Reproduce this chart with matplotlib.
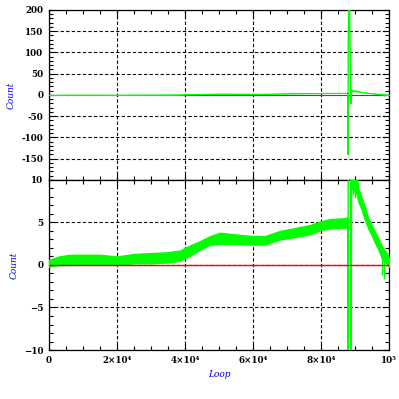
import matplotlib.pyplot as plt
from matplotlib.ticker import MultipleLocator, FuncFormatter

# noisy band before the spike (lower / upper edge)
loop_a = [0, 3000, 6000, 15000, 20000, 25000, 30000, 35000, 38500, 41500, 44400,
          47400, 50300, 54700, 60000, 63500, 67900, 72400, 76800, 79700, 82600,
          87000, 87900]
low_a = [-0.2, 0.0, 0.0, 0.1, 0.0, 0.2, 0.2, 0.3, 0.5, 1.1, 1.8,
         2.4, 2.5, 2.5, 2.4, 2.4, 3.0, 3.3, 3.6, 4.1, 4.3,
         4.4, 4.4]
high_a = [0.6, 1.0, 1.2, 1.2, 1.0, 1.3, 1.4, 1.5, 1.7, 2.3, 2.8,
          3.4, 3.8, 3.6, 3.4, 3.4, 4.0, 4.35, 4.7, 5.1, 5.4,
          5.5, 5.6]

# band after the spike
loop_b = [89000, 90500, 91000, 92000, 92900, 93900, 94900, 95900, 96900, 97900,
          99300, 100000]
low_b = [9.0, 8.3, 7.4, 6.5, 5.3, 4.3, 3.5, 2.6, 1.8, 0.8, 0.2, -0.2]
high_b = [12.0, 10.5, 9.0, 7.8, 6.9, 5.5, 4.7, 3.9, 3.1, 2.2, 1.4, 0.8]

# the spike
spike_x = [87900, 87950, 88000, 88300, 88700, 88800, 89000]
spike_y = [5.0, -140, 125, 250, 30, -20, 12]

# single dips below the band
dip_x = [89500, 90100, 97800, 98500]
dip_y = [8.2, 7.9, -1.2, -1.6]
dip_top = [10.5, 10.5, 1.0, 0.6]

plt.rcParams['font.family'] = 'DejaVu Serif'
plt.rcParams['font.weight'] = 'bold'
plt.rcParams['font.size'] = 6.3

green = '#00ff00'

fig = plt.figure(figsize=(3.99, 3.99), dpi=100)
ax1 = fig.add_axes([0.1228, 0.5489, 0.8522, 0.4261])
ax2 = fig.add_axes([0.1228, 0.1228, 0.8522, 0.4261])


def xlab(v, pos):
    if v == 0:
        return '0'
    if v == 100000:
        return '10⁵'
    return '%d×10⁴' % round(v / 10000)


def ylab_top(v, pos):
    if v <= -200:
        return ''
    return '%d' % v


for ax, top in [(ax1, True), (ax2, False)]:
    ax.set_axisbelow(True)
    if top:
        ax.axhline(0, color='#ff0000', lw=0.75, zorder=2)
        elw = 0.5
    else:
        ax.axhline(0, color='#ff0000', lw=1.0, zorder=4)
        elw = 1.0
    ax.fill_between(loop_a, low_a, high_a, color=green, lw=elw, edgecolor=green, zorder=3)
    ax.fill_between(loop_b, low_b, high_b, color=green, lw=elw, edgecolor=green, zorder=3)
    ax.plot(spike_x, spike_y, color=green, lw=1.0, zorder=3)
    ax.vlines(dip_x, dip_y, dip_top, color=green, lw=1.0, zorder=3)

    ax.set_xlim(0, 100000)
    ax.xaxis.set_major_locator(MultipleLocator(20000))
    ax.xaxis.set_minor_locator(MultipleLocator(5000))
    ax.grid(True, which='major', color='black', linestyle=(0, (3, 2)), linewidth=0.8)
    ax.tick_params(which='both', direction='in', top=True, right=True, width=0.8, pad=4)
    ax.tick_params(which='major', length=4.5)
    ax.tick_params(which='minor', length=3)
    for s in ax.spines.values():
        s.set_linewidth(0.9)
    ax.set_ylabel('Count', color='blue', style='italic', fontsize=6.5, labelpad=4)

ax1.set_ylim(-200, 200)
ax1.yaxis.set_major_locator(MultipleLocator(50))
ax1.yaxis.set_minor_locator(MultipleLocator(10))
ax1.yaxis.set_major_formatter(FuncFormatter(ylab_top))
ax1.tick_params(labelbottom=False)

ax2.set_ylim(-10, 10)
ax2.yaxis.set_major_locator(MultipleLocator(5))
ax2.yaxis.set_minor_locator(MultipleLocator(1))
ax2.xaxis.set_major_formatter(FuncFormatter(xlab))
ax2.set_xlabel('Loop', color='blue', style='italic', fontsize=6.5, labelpad=4)

fig.savefig('out.png', dpi=100)
